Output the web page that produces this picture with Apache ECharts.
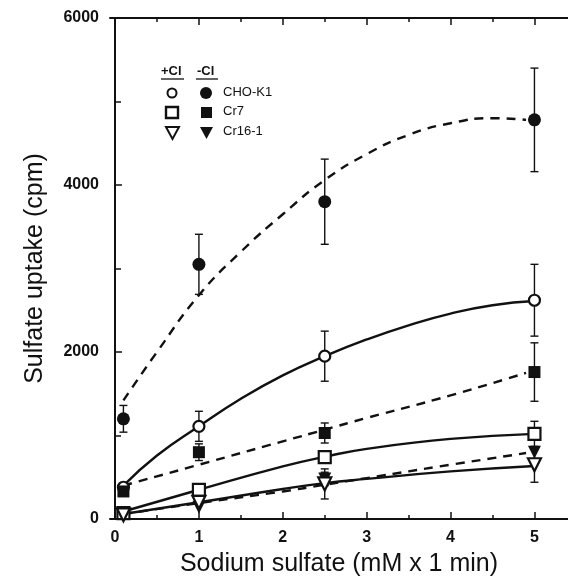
<!doctype html>
<html lang="en">
<head>
    <meta charset="utf-8">
    <title>sulfate uptake</title>
    <script src="https://cdn.jsdelivr.net/npm/echarts@6/dist/echarts.min.js"></script>
    <style>
        *{margin:0;padding:0}
        html,body{width:100%;height:100%;background:#fff}
        #main{width:568px;height:582px}
    </style>
</head>
<body>
<div id="main"></div>
<script type="text/javascript">
    // measured points: [x, y, err]
    var choMinus = [[0.1, 1200, 160], [1, 3050, 360], [2.5, 3800, 510], [5, 4780, 620]];
    var choPlus  = [[0.1, 380, 0], [1, 1110, 180], [2.5, 1950, 300], [5, 2620, 430]];
    var cr7Minus = [[0.1, 330, 0], [1, 800, 100], [2.5, 1030, 120], [5, 1760, 350]];
    var cr7Plus  = [[0.1, 70, 0], [1, 350, 60], [2.5, 740, 60], [5, 1020, 150]];
    var cr16Minus = [[0.1, 60, 0], [1, 140, 0], [2.5, 480, 80], [5, 800, 0]];
    var cr16Plus  = [[0.1, 50, 0], [1, 200, 0], [2.5, 420, 180], [5, 650, 210]];

    // fitted curves
    var choMinusFit = [[0.1, 1420], [0.5, 2000], [1, 2680], [1.5, 3200], [2, 3650], [2.5, 4060], [3, 4370], [3.5, 4600], [4, 4740], [4.5, 4800], [4.9, 4780]];
    var choPlusFit  = [[0.1, 400], [0.5, 760], [1, 1110], [1.5, 1440], [2, 1720], [2.5, 1950], [3, 2150], [3.5, 2320], [4, 2460], [4.5, 2560], [5, 2610]];
    var cr7MinusFit = [[0.1, 400], [1, 650], [2, 930], [2.5, 1070], [3, 1210], [4, 1480], [4.9, 1750]];
    var cr7PlusFit  = [[0.1, 90], [1, 350], [2, 630], [2.5, 745], [3, 840], [4, 960], [5, 1020]];
    var cr16MinusFit = [[0.1, 60], [1, 190], [2, 330], [2.5, 410], [3, 490], [4, 650], [4.9, 790]];
    var cr16PlusFit  = [[0.1, 60], [1, 200], [2, 360], [2.5, 430], [3, 480], [4, 570], [5, 635]];

    var xMajor = [0, 1, 2, 3, 4, 5];
    var xMinor = [0.5, 1.5, 2.5, 3.5, 4.5];

    var myChart = echarts.init(document.getElementById('main'));
    var font = '"Liberation Sans", Arial, sans-serif';

    function errorBars(data) {
        return {
            type: 'custom',
            xAxisIndex: 0,
            data: data.filter(function (d) { return d[2] > 0; })
                .map(function (d) { return [d[0], d[1] - d[2], d[1] + d[2]]; }),
            renderItem: function (params, api) {
                var lo = api.coord([api.value(0), api.value(1)]);
                var hi = api.coord([api.value(0), api.value(2)]);
                var st = {stroke: '#111', lineWidth: 1.4};
                return {
                    type: 'group',
                    children: [
                        {type: 'line', shape: {x1: lo[0], y1: lo[1], x2: hi[0], y2: hi[1]}, style: st},
                        {type: 'line', shape: {x1: lo[0] - 4, y1: lo[1], x2: lo[0] + 4, y2: lo[1]}, style: st},
                        {type: 'line', shape: {x1: hi[0] - 4, y1: hi[1], x2: hi[0] + 4, y2: hi[1]}, style: st}
                    ]
                };
            },
            z: 2
        };
    }

    function curve(data, dashed) {
        return {
            type: 'line',
            xAxisIndex: 0,
            data: data,
            smooth: true,
            symbol: 'none',
            lineStyle: {color: '#111', width: 2.4, type: dashed ? [9, 7] : 'solid'},
            z: 1
        };
    }

    function marks(data, symbol, filled, size, rotate) {
        return {
            type: 'scatter',
            xAxisIndex: 0,
            data: data.map(function (d) { return [d[0], d[1]]; }),
            symbol: symbol,
            symbolSize: size,
            symbolRotate: rotate || 0,
            itemStyle: filled ? {color: '#111', opacity: 1} : {color: '#fff', borderColor: '#111', borderWidth: 2.2, opacity: 1},
            z: 3
        };
    }

    function xAx(pos, values, len, line, labels) {
        return {
            type: 'value', position: pos, min: -0.06, max: 5.4,
            axisLine: {show: line, onZero: false, lineStyle: {color: '#111', width: 2}},
            axisTick: {show: true, inside: true, length: len, customValues: values, lineStyle: {color: '#111', width: 1.5}},
            axisLabel: labels ? {show: true, customValues: xMajor, margin: 11, color: '#111', fontSize: 16, fontWeight: 'bold', fontFamily: font} : {show: false},
            splitLine: {show: false},
            name: labels ? 'Sodium sulfate (mM x 1 min)' : '',
            nameLocation: 'middle', nameGap: 33,
            nameTextStyle: {fontSize: 25, color: '#111', fontFamily: font}
        };
    }

    var option = {
        animation: false,
        grid: {left: 110, right: 0, top: 18, bottom: 63},
        xAxis: [
            xAx('bottom', xMajor, 7, true, true),
            xAx('bottom', xMinor, 4, false, false),
            xAx('top', xMajor, 7, true, false),
            xAx('top', xMinor, 4, false, false)
        ],
        yAxis: {
            type: 'value', min: 0, max: 6000, interval: 2000,
            axisLine: {show: true, lineStyle: {color: '#111', width: 2}},
            axisTick: {inside: true, length: 7, lineStyle: {color: '#111', width: 1.5}},
            minorTick: {show: true, splitNumber: 2, length: 6, lineStyle: {color: '#111', width: 1.5}},
            axisLabel: {margin: 11, color: '#111', fontSize: 16, fontWeight: 'bold', fontFamily: font,
                formatter: function (v) { return String(v); }},
            splitLine: {show: false},
            name: 'Sulfate uptake (cpm)', nameLocation: 'middle', nameGap: 62,
            nameTextStyle: {fontSize: 25, color: '#111', fontFamily: font}
        },
        graphic: [
            {type: 'text', left: 161, top: 65, style: {text: '+Cl', fontSize: 13, fontWeight: 'bold', fill: '#111', fontFamily: font}},
            {type: 'text', left: 197, top: 65, style: {text: '-Cl', fontSize: 13, fontWeight: 'bold', fill: '#111', fontFamily: font}},
            {type: 'line', shape: {x1: 161, y1: 79, x2: 184, y2: 79}, style: {stroke: '#111', lineWidth: 1.3}},
            {type: 'line', shape: {x1: 196, y1: 79, x2: 218, y2: 79}, style: {stroke: '#111', lineWidth: 1.3}},
            {type: 'circle', shape: {cx: 172, cy: 93, r: 4.5}, style: {fill: '#fff', stroke: '#111', lineWidth: 2}},
            {type: 'circle', shape: {cx: 206, cy: 93, r: 6}, style: {fill: '#111'}},
            {type: 'text', left: 223, top: 86, style: {text: 'CHO-K1', fontSize: 13, fill: '#111', fontFamily: font}},
            {type: 'rect', shape: {x: 166, y: 107, width: 12, height: 11}, style: {fill: '#fff', stroke: '#111', lineWidth: 2.4}},
            {type: 'rect', shape: {x: 201, y: 107, width: 11, height: 11}, style: {fill: '#111'}},
            {type: 'text', left: 223, top: 105, style: {text: 'Cr7', fontSize: 13, fill: '#111', fontFamily: font}},
            {type: 'polygon', shape: {points: [[166, 127], [179, 127], [172.5, 139]]}, style: {fill: '#fff', stroke: '#111', lineWidth: 2}},
            {type: 'polygon', shape: {points: [[200, 127], [213, 127], [206.5, 139]]}, style: {fill: '#111'}},
            {type: 'text', left: 223, top: 125, style: {text: 'Cr16-1', fontSize: 13, fill: '#111', fontFamily: font}}
        ],
        series: [
            curve(choMinusFit, true),
            curve(choPlusFit, false),
            curve(cr7MinusFit, true),
            curve(cr7PlusFit, false),
            curve(cr16MinusFit, true),
            curve(cr16PlusFit, false),
            errorBars(choMinus),
            errorBars(choPlus),
            errorBars(cr7Minus),
            errorBars(cr7Plus),
            errorBars(cr16Minus),
            errorBars(cr16Plus),
            marks(choMinus, 'circle', true, 13),
            marks(choPlus, 'circle', false, 11),
            marks(cr7Minus, 'rect', true, 12),
            marks(cr7Plus, 'rect', false, 12),
            marks(cr16Minus, 'triangle', true, 13, 180),
            marks(cr16Plus, 'triangle', false, 13, 180)
        ]
    };
    myChart.setOption(option);
</script>
</body>
</html>
